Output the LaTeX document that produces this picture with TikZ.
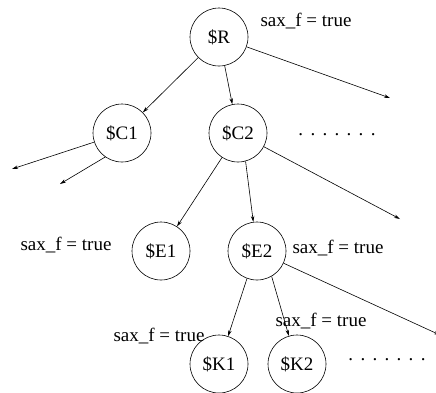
\documentclass[tikz,border=0pt]{standalone}
\usepackage{fontspec}
\setmainfont{Liberation Serif}
\usetikzlibrary{arrows.meta}

\tikzset{
  var/.style={draw, circle, minimum size=58pt, inner sep=0pt},
  flag/.style={inner sep=0pt},
  edge/.style={-{Stealth[length=6pt,width=3.5pt]}, line width=0.6pt}
}
\newcommand{\spacedots}{.\hspace{7.3pt}.\hspace{7.3pt}.\hspace{7.3pt}.\hspace{7.3pt}.\hspace{7.3pt}.\hspace{7.3pt}.}

\begin{document}
\begin{tikzpicture}[x=1pt, y=-1pt, line width=0.6pt, font=\fontsize{19}{22}\selectfont]
  \useasboundingbox (0,0) rectangle (436,392);
  % tree of variables
  \node[var] (R)  at (219, 37)  {\$R};
  \node[var] (C1) at (122, 133) {\$C1};
  \node[var] (C2) at (238, 133) {\$C2};
  \node[var] (E1) at (161, 251) {\$E1};
  \node[var] (E2) at (257, 251) {\$E2};
  \node[var] (K1) at (219, 364) {\$K1};
  \node[var] (K2) at (297, 364) {\$K2};
  % flags
  \node[flag] (fR)  at (306, 21)  {sax\_f = true};
  \node[flag] (fE1) at (66, 245)  {sax\_f = true};
  \node[flag] (fE2) at (338, 248) {sax\_f = true};
  \node[flag] (fK1) at (159, 336) {sax\_f = true};
  \node[flag] (fK2) at (321, 321) {sax\_f = true};
  % more siblings
  \node[flag] (moreC) at (337, 135) {\spacedots};
  \node[flag] (moreK) at (387, 360) {\spacedots};
  % loose ends
  \coordinate (outR)  at (390, 98);
  \coordinate (outC1a) at (12, 169);
  \coordinate (outC1b) at (60, 184);
  \coordinate (outC2) at (400, 219);
  \coordinate (outE2) at (440, 335);
  \draw[edge] (R) -- (C1);
  \draw[edge] (R) -- (C2);
  \draw[edge] (R) -- (outR);
  \draw[edge] (C1) -- (outC1a);
  \draw[edge] (C1.-125) -- (outC1b);
  \draw[edge] (C2) -- (E1);
  \draw[edge] (C2.-75) -- (E2);
  \draw[edge] (C2) -- (outC2);
  \draw[edge] (E2.-110) -- (K1);
  \draw[edge] (E2.-60) -- (K2);
  \draw[edge] (E2) -- (outE2);
\end{tikzpicture}
\end{document}
